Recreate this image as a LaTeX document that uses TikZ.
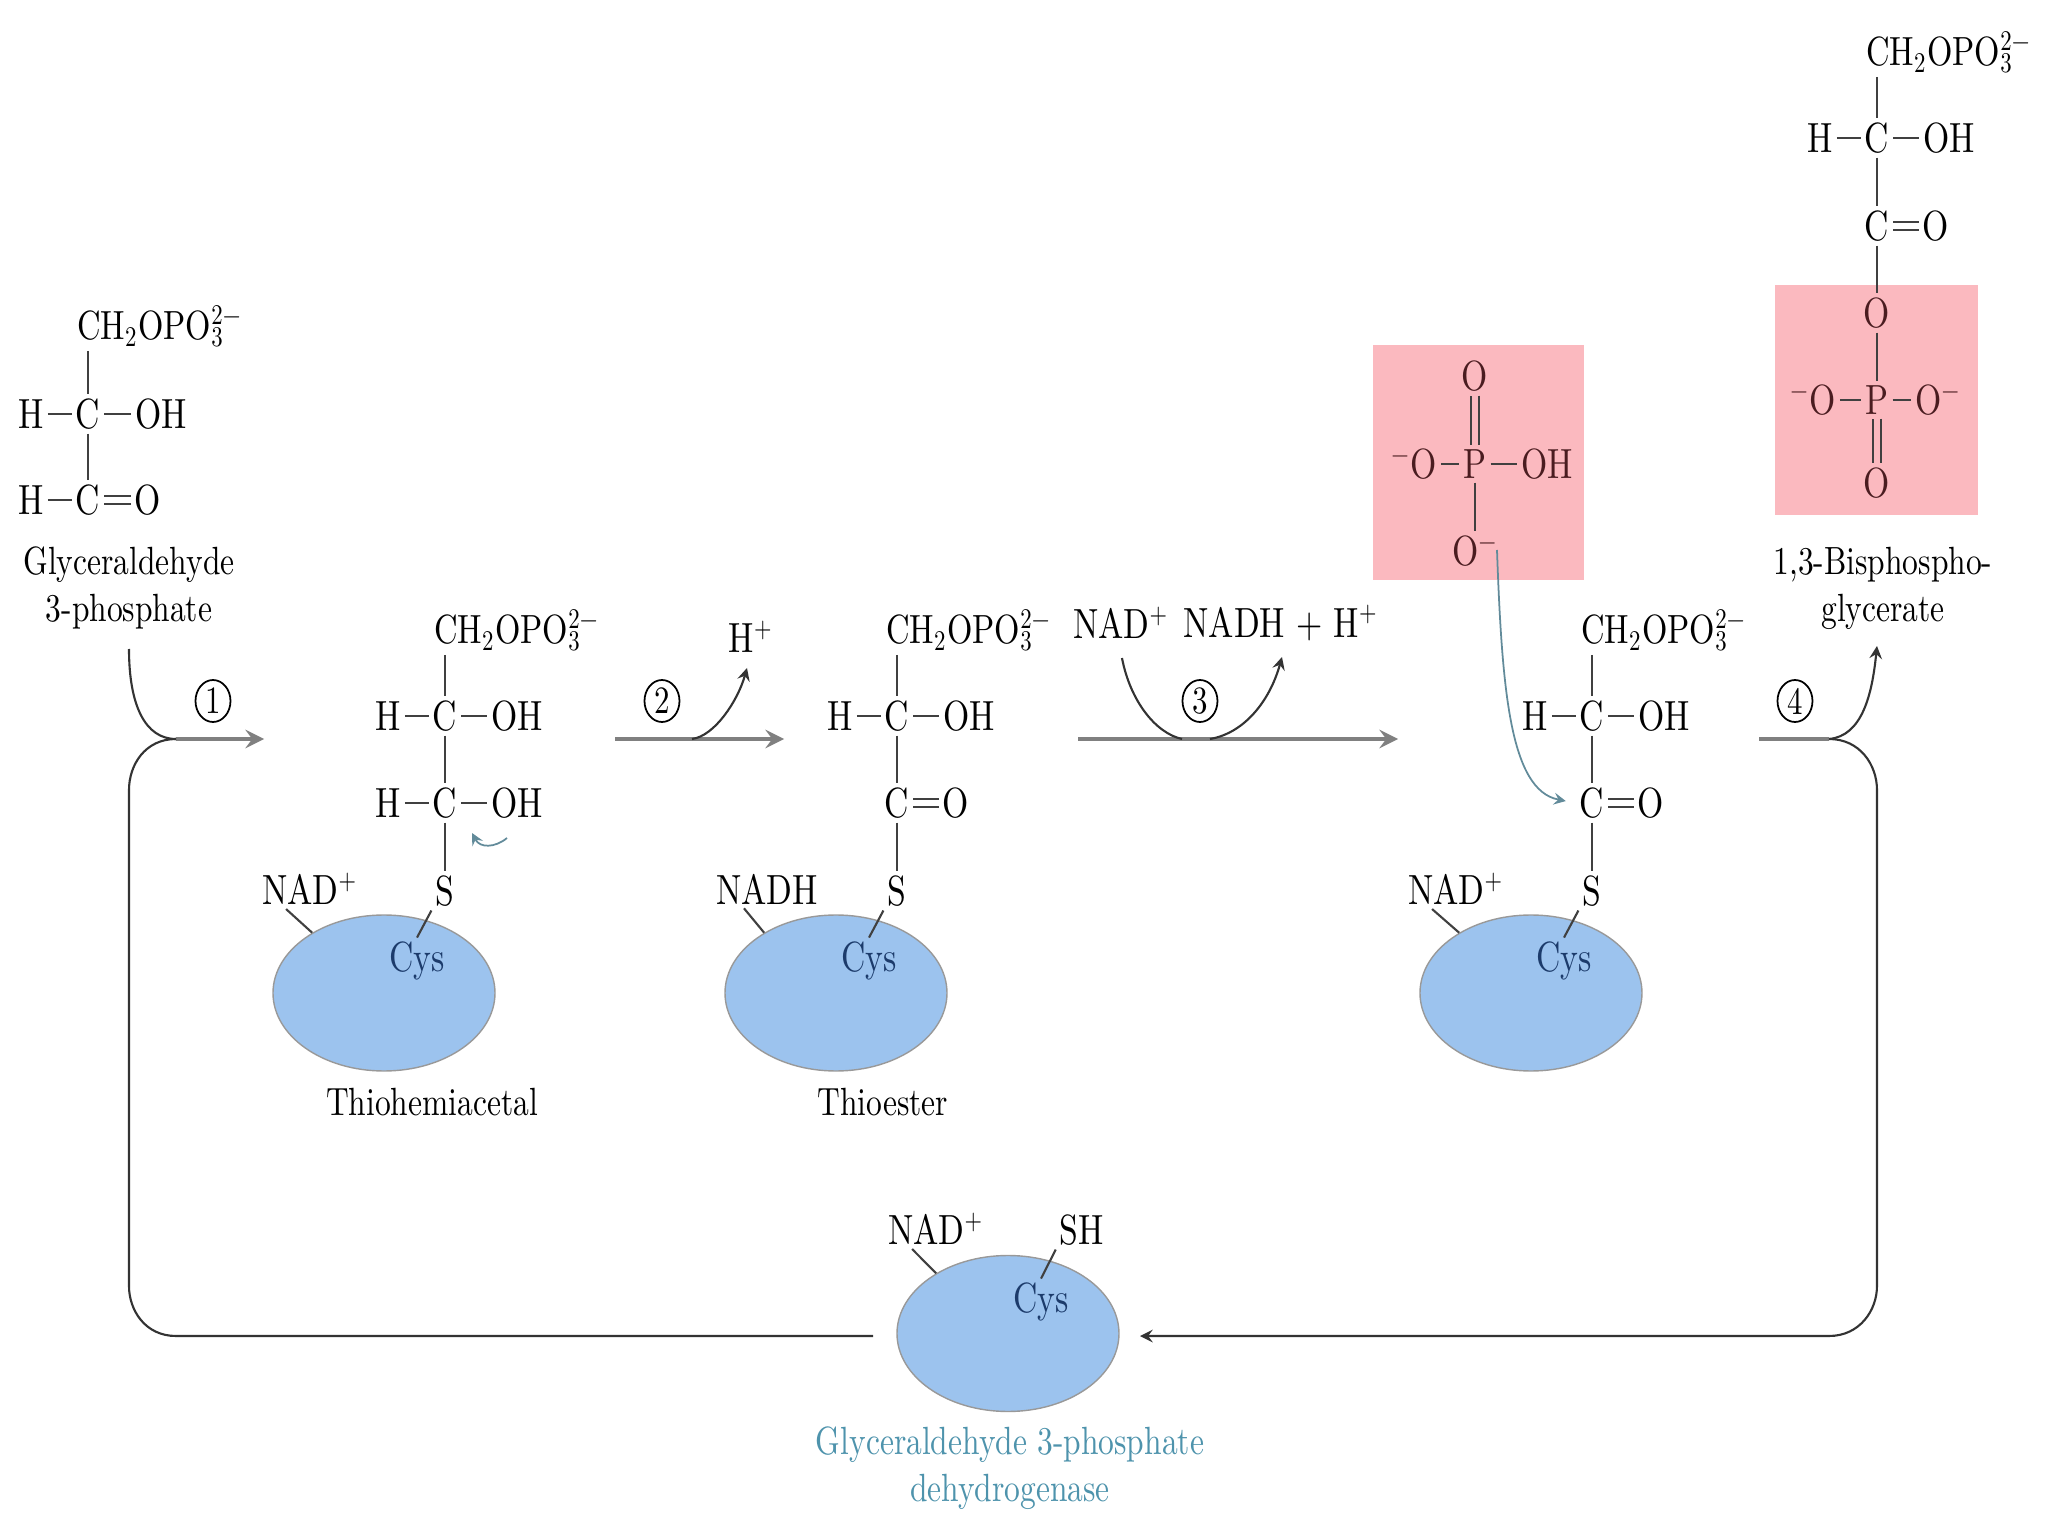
\documentclass[tikz,border=0pt]{standalone}
\usepackage{fontspec}
\setmainfont{lmroman10-regular.otf}[FakeStretch=0.8]
\usetikzlibrary{shapes.geometric}
\newcommand{\phosgroup}{CH\textsubscript{2}OPO\rlap{\textsubscript{3}}\textsuperscript{2\textminus}}
\definecolor{enzblue}{HTML}{9CC3EE}
\definecolor{phospink}{HTML}{FBB9BF}
\definecolor{tealtext}{HTML}{4E93AC}
\definecolor{cysnavy}{HTML}{1C3B6B}
\definecolor{phosdark}{HTML}{4A1C20}
\begin{document}
\begin{tikzpicture}[
    atom/.style={inner sep=1pt, font=\fontsize{12}{14}\selectfont},
    phos/.style={inner sep=1pt, anchor=west, font=\fontsize{11.6}{14}\selectfont},
    label/.style={inner sep=1pt, font=\fontsize{11.2}{13.4}\selectfont, align=center},
    cys/.style={atom, text=cysnavy},
    patom/.style={atom, text=phosdark},
    bond/.style={black!75, line width=0.6pt},
    dbl/.style={black!75, line width=0.6pt, double, double distance=1.6pt},
    pdbl/.style={dbl, double=phospink},
    enzyme/.style={ellipse, draw=black!40, fill=enzblue, minimum width=2.22cm, minimum height=1.56cm, inner sep=0pt},
    stepnum/.style={ellipse, draw, line width=0.5pt, minimum width=0.35cm, minimum height=0.42cm, inner sep=0pt, font=\fontsize{11}{13}\selectfont},
    pinkbox/.style={rectangle, fill=phospink, inner sep=0pt},
    arrow/.style={->, >=stealth, black!80, line width=0.6pt},
    mainarrow/.style={->, >=stealth, black!50, line width=1.3pt},
    tealarrow/.style={->, >=stealth, tealtext!75!black!80, line width=0.5pt},
]
\useasboundingbox (0,0) rectangle (20.48,-15.36);

% Pink boxes
\node[pinkbox, minimum width=2.11cm, minimum height=2.35cm] (boxa) at (14.785,-4.625) {};
\node[pinkbox, minimum width=2.03cm, minimum height=2.30cm] (boxb) at (18.765,-4.0) {};

% Glyceraldehyde 3-phosphate
\node[phos] (top1) at (0.73,-3.26) {\phosgroup};
\node[atom] (c1a) at (0.88,-4.14) {C};
\node[atom] (h1a) at (0.31,-4.14) {H};
\node[atom] (oh1) at (1.61,-4.14) {OH};
\node[atom] (c1b) at (0.88,-5.00) {C};
\node[atom] (h1b) at (0.31,-5.00) {H};
\node[atom] (o1) at (1.48,-5.00) {O};
\node[label] (g3p) at (1.29,-5.88) {Glyceraldehyde\\3-phosphate};
\draw[bond] (top1.south -| c1a) -- (c1a);
\draw[bond] (h1a) -- (c1a);
\draw[bond] (c1a) -- (oh1);
\draw[bond] (c1a) -- (c1b);
\draw[bond] (h1b) -- (c1b);
\draw[dbl] (c1b) -- (o1);

% Thiohemiacetal
\node[phos] (top2) at (4.30,-6.30) {\phosgroup};
\node[atom] (c2a) at (4.45,-7.16) {C};
\node[atom] (h2a) at (3.88,-7.16) {H};
\node[atom] (oh2a) at (5.17,-7.16) {OH};
\node[atom] (c2b) at (4.45,-8.03) {C};
\node[atom] (h2b) at (3.88,-8.03) {H};
\node[atom] (oh2b) at (5.17,-8.03) {OH};
\node[atom] (s2) at (4.45,-8.91) {S};
\node[enzyme] (enz2) at (3.84,-9.93) {};
\node[atom] (nad2) at (3.10,-8.89) {NAD\textsuperscript{+}};
\node[cys] (cys2) at (4.17,-9.61) {Cys};
\node[label] (name2) at (4.32,-11.02) {Thiohemiacetal};
\draw[bond] (top2.south -| c2a) -- (c2a);
\draw[bond] (h2a) -- (c2a);
\draw[bond] (c2a) -- (oh2a);
\draw[bond] (c2a) -- (c2b);
\draw[bond] (h2b) -- (c2b);
\draw[bond] (c2b) -- (oh2b);
\draw[bond] (c2b) -- (s2);
\draw[bond] (s2.south west) -- (cys2.north);
\draw[bond] (nad2.220) -- (enz2.140);

% Thioester
\node[phos] (top3) at (8.82,-6.30) {\phosgroup};
\node[atom] (c3a) at (8.97,-7.16) {C};
\node[atom] (h3a) at (8.40,-7.16) {H};
\node[atom] (oh3a) at (9.69,-7.16) {OH};
\node[atom] (c3b) at (8.97,-8.03) {C};
\node[atom] (o3) at (9.56,-8.03) {O};
\node[atom] (s3) at (8.97,-8.91) {S};
\node[enzyme] (enz3) at (8.36,-9.93) {};
\node[atom] (nad3) at (7.67,-8.89) {NADH};
\node[cys] (cys3) at (8.69,-9.61) {Cys};
\node[label] (name3) at (8.83,-11.02) {Thioester};
\draw[bond] (top3.south -| c3a) -- (c3a);
\draw[bond] (h3a) -- (c3a);
\draw[bond] (c3a) -- (oh3a);
\draw[bond] (c3a) -- (c3b);
\draw[dbl] (c3b) -- (o3);
\draw[bond] (c3b) -- (s3);
\draw[bond] (s3.south west) -- (cys3.north);
\draw[bond] (nad3.220) -- (enz3.140);

% Acyl intermediate before step 4
\node[phos] (top4) at (15.77,-6.30) {\phosgroup};
\node[atom] (c4a) at (15.92,-7.16) {C};
\node[atom] (h4a) at (15.35,-7.16) {H};
\node[atom] (oh4a) at (16.64,-7.16) {OH};
\node[atom] (c4b) at (15.92,-8.03) {C};
\node[atom] (o4) at (16.51,-8.03) {O};
\node[atom] (s4) at (15.92,-8.91) {S};
\node[enzyme] (enz4) at (15.31,-9.93) {};
\node[atom] (nad4) at (14.56,-8.89) {NAD\textsuperscript{+}};
\node[cys] (cys4) at (15.64,-9.61) {Cys};
\draw[bond] (top4.south -| c4a) -- (c4a);
\draw[bond] (h4a) -- (c4a);
\draw[bond] (c4a) -- (oh4a);
\draw[bond] (c4a) -- (c4b);
\draw[dbl] (c4b) -- (o4);
\draw[bond] (c4b) -- (s4);
\draw[bond] (s4.south west) -- (cys4.north);
\draw[bond] (nad4.220) -- (enz4.140);

% Phosphate
\node[patom] (pao) at (14.75,-3.76) {O};
\node[patom] (pap) at (14.75,-4.64) {P};
\node[patom] (pal) at (14.14,-4.64) {\textsuperscript{\textminus}O};
\node[patom] (par) at (15.47,-4.64) {OH};
\node[patom] (pau) at (14.75,-5.51) {O\textsuperscript{\textminus}};
\draw[pdbl] (pao) -- (pap);
\draw[bond] (pal) -- (pap);
\draw[bond] (pap) -- (par);
\draw[bond] (pap) -- (pau);

% 1,3-Bisphosphoglycerate
\node[phos] (top5) at (18.62,-0.52) {\phosgroup};
\node[atom] (c5a) at (18.77,-1.38) {C};
\node[atom] (h5a) at (18.20,-1.38) {H};
\node[atom] (oh5a) at (19.49,-1.38) {OH};
\node[atom] (c5b) at (18.77,-2.26) {C};
\node[atom] (o5) at (19.36,-2.26) {O};
\node[patom] (o5b) at (18.77,-3.13) {O};
\node[patom] (p5) at (18.77,-4.00) {P};
\node[patom] (o5l) at (18.13,-4.00) {\textsuperscript{\textminus}O};
\node[patom] (o5r) at (19.38,-4.00) {O\textsuperscript{\textminus}};
\node[patom] (o5d) at (18.77,-4.83) {O};
\node[label] (bpg) at (18.83,-5.88) {1,3-Bisphospho-\\glycerate};
\draw[bond] (top5.south -| c5a) -- (c5a);
\draw[bond] (h5a) -- (c5a);
\draw[bond] (c5a) -- (oh5a);
\draw[bond] (c5a) -- (c5b);
\draw[dbl] (c5b) -- (o5);
\draw[bond] (c5b) -- (o5b);
\draw[bond] (o5b) -- (p5);
\draw[bond] (o5l) -- (p5);
\draw[bond] (p5) -- (o5r);
\draw[pdbl] (p5) -- (o5d);

% Free enzyme
\node[enzyme] (enz5) at (10.08,-13.335) {};
\node[atom] (nad5) at (9.36,-12.29) {NAD\textsuperscript{+}};
\node[atom] (sh5) at (10.82,-12.30) {SH};
\node[cys] (cys5) at (10.41,-13.02) {Cys};
\node[label, text=tealtext] (gapdh) at (10.10,-14.68) {Glyceraldehyde 3-phosphate\\dehydrogenase};
\draw[bond] (nad5.220) -- (enz5.140);
\draw[bond] (sh5.south west) -- (cys5.north);

% Small side labels
\node[atom] (hplus) at (7.51,-6.37) {H\textsuperscript{+}};
\node[atom] (nadin) at (11.21,-6.23) {NAD\textsuperscript{+}};
\node[atom] (nadout) at (12.81,-6.23) {NADH + H\textsuperscript{+}};

% Step numbers
\node[stepnum] (st1) at (2.13,-7.01) {1};
\node[stepnum] (st2) at (6.62,-7.01) {2};
\node[stepnum] (st3) at (12.00,-7.01) {3};
\node[stepnum] (st4) at (17.95,-7.01) {4};

% Junction points on the arrows
\coordinate (a1top) at (1.29,-6.49);
\coordinate (a1s) at (1.76,-7.39);
\coordinate (a1e) at (2.64,-7.39);
\coordinate (a2s) at (6.15,-7.39);
\coordinate (a2m) at (6.92,-7.39);
\coordinate (a2e) at (7.84,-7.39);
\coordinate (a2h) at (7.47,-6.68);
\coordinate (a3s) at (10.78,-7.39);
\coordinate (a3a) at (11.82,-7.39);
\coordinate (a3b) at (12.10,-7.39);
\coordinate (a3e) at (13.98,-7.39);
\coordinate (a3in) at (11.22,-6.58);
\coordinate (a3out) at (12.82,-6.57);
\coordinate (a4s) at (17.59,-7.39);
\coordinate (a4m) at (18.29,-7.39);
\coordinate (a4top) at (18.77,-6.46);
\coordinate (lend) at (8.73,-13.36);
\coordinate (rend) at (11.40,-13.36);
\coordinate (tealin) at (14.97,-5.50);
\coordinate (curls) at (5.07,-8.38);
\coordinate (curle) at (4.72,-8.33);

% Arrows
\draw[mainarrow] (a1s) -- (a1e);
\draw[mainarrow] (a2s) -- (a2e);
\draw[mainarrow] (a3s) -- (a3e);
\draw[mainarrow, -] (a4s) -- (a4m);
\draw[arrow, -] (a1top) .. controls (1.29,-7.05) and (1.45,-7.39) .. (a1s);
\draw[arrow, -] (lend) -- (1.76,-13.36) .. controls (1.45,-13.36) and (1.29,-13.1) .. (1.29,-12.86) -- (1.29,-7.9) .. controls (1.29,-7.65) and (1.45,-7.39) .. (a1s);
\draw[arrow] (a2m) .. controls (7.15,-7.36) and (7.38,-7.0) .. (a2h);
\draw[arrow, -] (a3in) .. controls (11.3,-7.0) and (11.55,-7.33) .. (a3a);
\draw[arrow] (a3b) .. controls (12.45,-7.33) and (12.7,-7.0) .. (a3out);
\draw[arrow] (a4m) .. controls (18.62,-7.36) and (18.72,-6.95) .. (a4top);
\draw[arrow] (a4m) .. controls (18.6,-7.39) and (18.77,-7.65) .. (18.77,-7.9) -- (18.77,-12.86) .. controls (18.77,-13.1) and (18.6,-13.36) .. (18.29,-13.36) -- (rend);

% Teal arrows
\draw[tealarrow, shorten >=0.1cm] (tealin) .. controls (15.02,-6.9) and (15.1,-7.9) .. (c4b.west);
\draw[tealarrow] (curls) .. controls (4.95,-8.48) and (4.8,-8.48) .. (curle);
\end{tikzpicture}
\end{document}
